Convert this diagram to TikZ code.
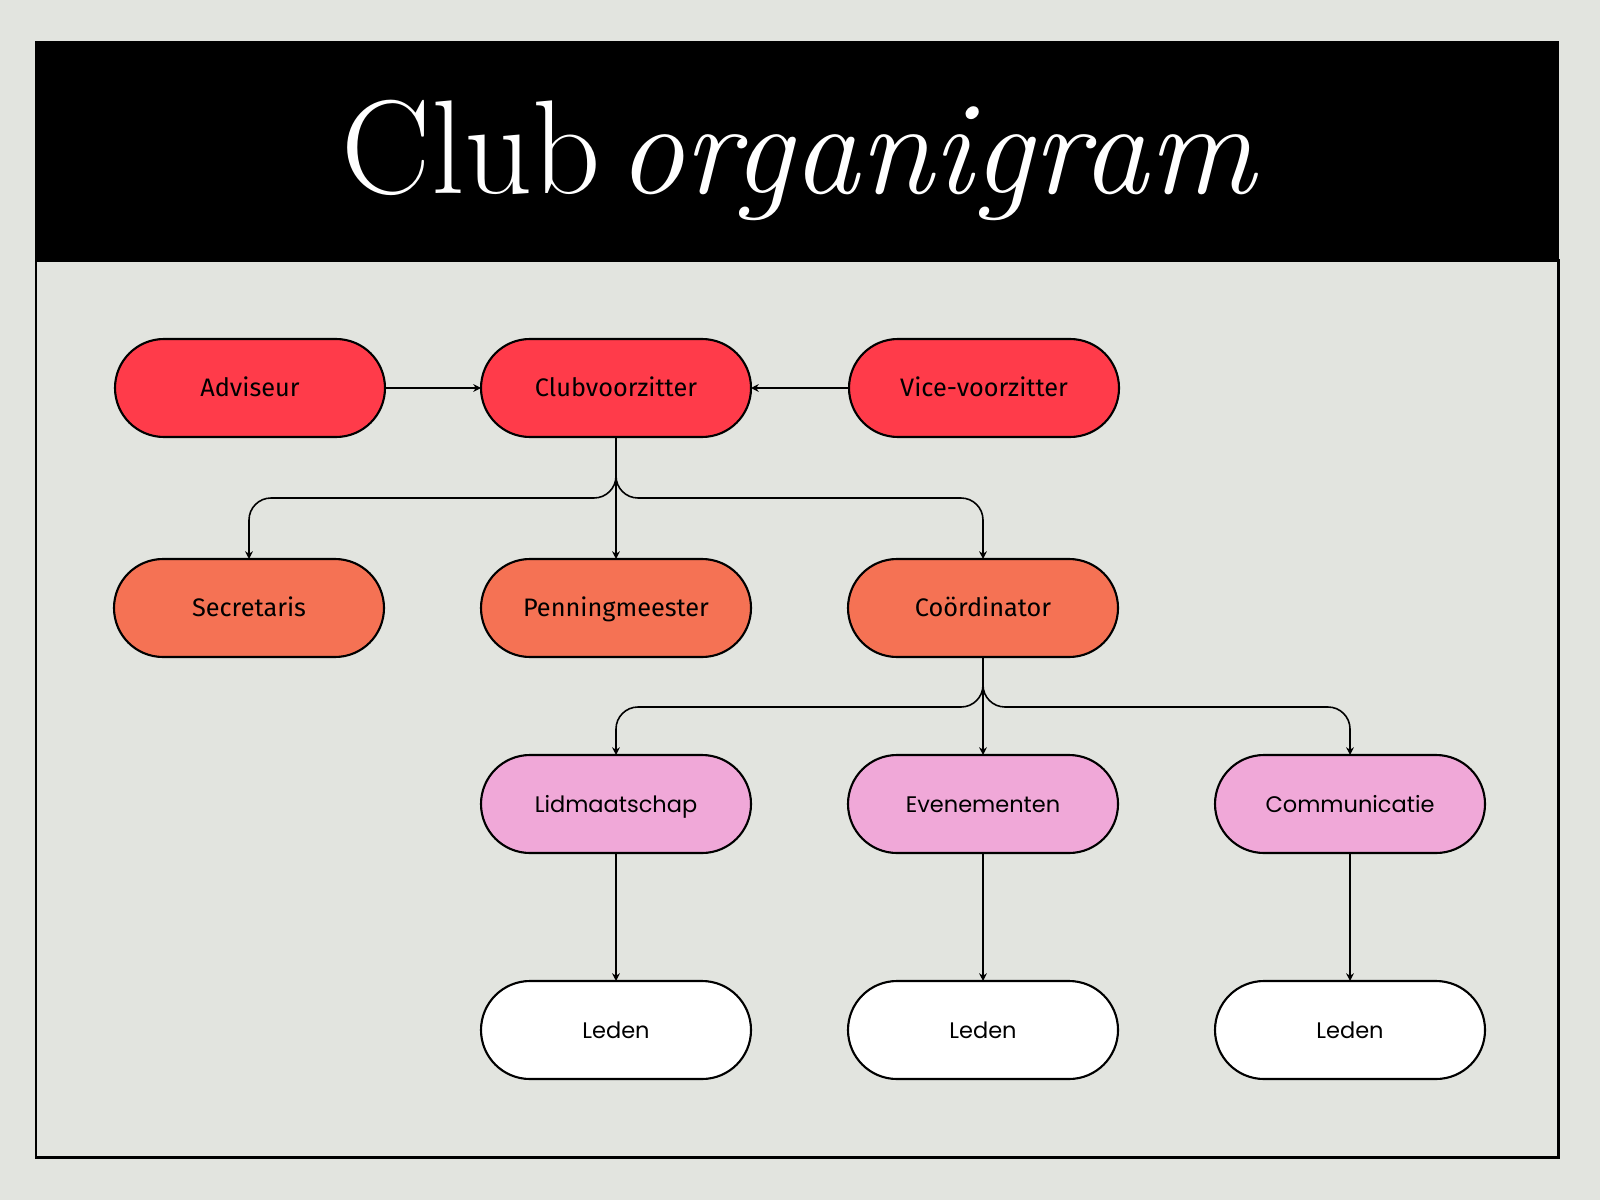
\documentclass[tikz,border=0pt]{standalone}
\usepackage{fontspec}
\newfontfamily\topfont{Fira Sans}
\newfontfamily\lowfont{Poppins}
\usepackage{tikz}
\usetikzlibrary{arrows.meta,calc,positioning}
\definecolor{fondo}{RGB}{226, 228, 223}
\definecolor{rojo}{RGB}{255, 59, 74}
\definecolor{naranja}{RGB}{245, 114, 84}
\definecolor{rosa}{RGB}{240, 168, 216}
\tikzstyle{edge}  =[line width=0.45pt, -{Stealth[length=2.2pt,width=2.2pt]}]
\tikzstyle{fork}  =[edge, rounded corners=0.22cm]
\tikzstyle{pill}  =[draw, line width=0.6pt, rounded corners=0.49cm,
                    minimum width=2.7cm, minimum height=0.98cm,
                    inner sep=0pt, outer sep=0pt,
                    text height=4.6pt, text depth=0pt]
\tikzstyle{toppill}=[pill, font=\topfont\fontsize{7.2}{9}\selectfont]
\tikzstyle{lowpill}=[pill, font=\lowfont\fontsize{6.4}{8}\selectfont]

\begin{document}
\begin{tikzpicture}

    \useasboundingbox (0,0) rectangle (16,12);
    \fill[fondo] (0,0) rectangle (16,12);
    \draw[line width=0.85pt, fill=fondo] (0.36,0.43) rectangle (15.58,9.40);
    \fill[black] (0.35,9.38) rectangle (15.59,11.59);
    \node[white, anchor=base, font=\fontsize{38}{42}\selectfont] (titulo) at (8.0,10.06)
        {Club\hspace{0.12em}\textit{organigram}};

    % bestuur
    \draw (2.50,8.12) node (adv) [toppill,fill=rojo] {Adviseur};
    \draw (6.16,8.12) node (cv) [toppill,fill=rojo] {Clubvoorzitter};
    \draw (9.84,8.12) node (vice) [toppill,fill=rojo] {Vice-voorzitter};

    \draw (2.49,5.92) node (sec) [toppill,fill=naranja] {Secretaris};
    \draw (6.16,5.92) node (pen) [toppill,fill=naranja] {Penningmeester};
    \draw (9.83,5.92) node (coo) [toppill,fill=naranja] {Coördinator};

    % commissies
    \draw (6.16,3.96) node (lid) [lowpill,fill=rosa] {Lidmaatschap};
    \draw (9.83,3.96) node (eve) [lowpill,fill=rosa] {Evenementen};
    \draw (13.50,3.96) node (com) [lowpill,fill=rosa] {Communicatie};

    \draw (6.16,1.70) node (led1) [lowpill,fill=white] {Leden};
    \draw (9.83,1.70) node (led2) [lowpill,fill=white] {Leden};
    \draw (13.50,1.70) node (led3) [lowpill,fill=white] {Leden};

    \draw [edge] (adv) to (cv);
    \draw [edge] (vice) to (cv);
    \draw [edge] (cv) to (pen);
    \draw [edge] (coo) to (eve);

    \foreach \i in {sec,coo}
        \draw [fork] (cv.south) -- ($(cv.south)+(0,-0.61)$) -| (\i.north);

    \foreach \i in {lid,com}
        \draw [fork] (coo.south) -- ($(coo.south)+(0,-0.50)$) -| (\i.north);

    \foreach \i/\j in {lid/led1,eve/led2,com/led3}
        \draw [edge] (\i) to (\j);

\end{tikzpicture}
\end{document}
